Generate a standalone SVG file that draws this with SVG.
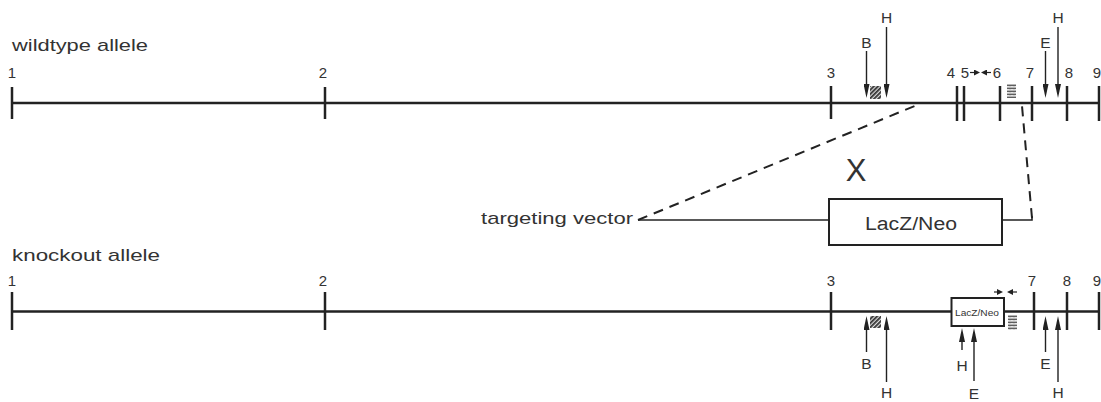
<svg xmlns="http://www.w3.org/2000/svg" width="1101" height="402" viewBox="0 0 1101 402">
  <style>
    .axis { stroke: #222; stroke-width: 2.5; fill: none; }
    .tick { stroke: #222; stroke-width: 2.5; }
    .site { stroke: #222; stroke-width: 1.4; fill: none; }
    .primer { stroke: #222; stroke-width: 1.2; fill: none; }
    .vec { stroke: #222; stroke-width: 1.6; fill: none; }
    .dash { stroke: #222; stroke-width: 2; fill: none; stroke-dasharray: 10 7; }
    .box { fill: #fff; stroke: #222; stroke-width: 2; }
    .lbl { font-family: "Liberation Sans", Arial, sans-serif; fill: #333; }
    .num { font-size: 15px; text-anchor: middle; }
    .enz { font-size: 15.5px; text-anchor: middle; }
    .title { font-size: 17px; }
  </style>
  <defs>
    <marker id="head" viewBox="0 0 14 6" refX="6" refY="3" markerWidth="14" markerHeight="6" markerUnits="userSpaceOnUse" orient="auto">
      <path d="M0,0 L14,3 L0,6 z" fill="#222"/>
    </marker>
    <marker id="phead" viewBox="0 0 6 6" refX="3" refY="3" markerWidth="6" markerHeight="6" markerUnits="userSpaceOnUse" orient="auto">
      <path d="M0,0 L6,3 L0,6 z" fill="#222"/>
    </marker>
    <pattern id="hatch" width="3" height="3" patternUnits="userSpaceOnUse" patternTransform="rotate(45)">
      <rect width="3" height="3" fill="#ddd"/>
      <rect width="1.8" height="3" fill="#333"/>
    </pattern>
    <pattern id="wave" width="4" height="3" patternUnits="userSpaceOnUse">
      <rect width="4" height="3" fill="#eee"/>
      <path d="M0,2.2 L1,0.6 L2,2.2 L3,0.6 L4,2.2" stroke="#555" stroke-width="1" fill="none"/>
    </pattern>
  </defs>

  <!-- wildtype allele -->
  <g id="wildtype">
    <text class="lbl title" x="12" y="51" textLength="136" lengthAdjust="spacingAndGlyphs">wildtype allele</text>
    <line class="axis" x1="12" y1="103" x2="1099" y2="103"/>
    <g class="ticks">
      <line class="tick" x1="12" y1="87" x2="12" y2="119"/>
      <line class="tick" x1="325" y1="87" x2="325" y2="119"/>
      <line class="tick" x1="831" y1="86" x2="831" y2="119"/>
      <line class="tick" x1="957" y1="86" x2="957" y2="121"/>
      <line class="tick" x1="964" y1="86" x2="964" y2="121"/>
      <line class="tick" x1="1000" y1="86" x2="1000" y2="121"/>
      <line class="tick" x1="1032" y1="86" x2="1032" y2="121"/>
      <line class="tick" x1="1067" y1="86" x2="1067" y2="121"/>
      <line class="tick" x1="1099" y1="86" x2="1099" y2="121"/>
    </g>
    <g class="lbl num">
      <text x="12" y="78">1</text>
      <text x="323" y="78">2</text>
      <text x="831" y="78">3</text>
      <text x="951" y="78">4</text>
      <text x="965" y="78">5</text>
      <text x="997" y="78">6</text>
      <text x="1030" y="78">7</text>
      <text x="1069" y="78">8</text>
      <text x="1097" y="78">9</text>
    </g>
    <!-- primer pair between exons 5 and 6 -->
    <line class="primer" x1="970" y1="72.5" x2="977" y2="72.5" marker-end="url(#phead)"/>
    <line class="primer" x1="991" y1="72.5" x2="984" y2="72.5" marker-end="url(#phead)"/>
    <!-- probe and repeat blocks -->
    <rect x="870" y="86" width="11" height="13" fill="url(#hatch)"/>
    <rect x="1007" y="84" width="9" height="14" fill="url(#wave)"/>
    <!-- restriction sites -->
    <line class="site" x1="866.5" y1="51" x2="866.5" y2="90" marker-end="url(#head)"/>
    <text class="lbl enz" x="866.5" y="48">B</text>
    <line class="site" x1="886.5" y1="27" x2="886.5" y2="90" marker-end="url(#head)"/>
    <text class="lbl enz" x="886.5" y="23">H</text>
    <line class="site" x1="1045.5" y1="51" x2="1045.5" y2="90" marker-end="url(#head)"/>
    <text class="lbl enz" x="1045.5" y="48">E</text>
    <line class="site" x1="1058" y1="27" x2="1058" y2="90" marker-end="url(#head)"/>
    <text class="lbl enz" x="1058" y="23">H</text>
  </g>

  <!-- crossover mark -->
  <g id="crossover">
    <text class="lbl" x="856" y="181" font-size="31" text-anchor="middle" fill="#222">X</text>
  </g>

  <!-- targeting vector -->
  <g id="vector">
    <text class="lbl title" x="481" y="224" textLength="152" lengthAdjust="spacingAndGlyphs">targeting vector</text>
    <polyline class="vec" points="638,220 829,220"/>
    <polyline class="vec" points="1002,220 1032,220 1032,216"/>
    <rect class="box" x="829" y="199" width="173" height="46"/>
    <text class="lbl" x="911" y="230" font-size="18" text-anchor="middle" textLength="92" lengthAdjust="spacingAndGlyphs">LacZ/Neo</text>
  </g>

  <!-- homology arms linking vector to the allele -->
  <g id="connectors">
    <line class="dash" x1="638" y1="220" x2="917" y2="105"/>
    <line class="dash" x1="1032" y1="218" x2="1022" y2="106"/>
  </g>

  <!-- knockout allele -->
  <g id="knockout">
    <text class="lbl title" x="12" y="261" textLength="148" lengthAdjust="spacingAndGlyphs">knockout  allele</text>
    <line class="axis" x1="12" y1="311.5" x2="1099" y2="311.5"/>
    <g class="ticks">
      <line class="tick" x1="12" y1="292" x2="12" y2="330"/>
      <line class="tick" x1="325" y1="292" x2="325" y2="330"/>
      <line class="tick" x1="831" y1="292" x2="831" y2="330"/>
      <line class="tick" x1="1034" y1="292" x2="1034" y2="330"/>
      <line class="tick" x1="1067" y1="292" x2="1067" y2="330"/>
      <line class="tick" x1="1099" y1="292" x2="1099" y2="330"/>
    </g>
    <g class="lbl num">
      <text x="12" y="286">1</text>
      <text x="323" y="286">2</text>
      <text x="831" y="286">3</text>
      <text x="1032" y="286">7</text>
      <text x="1067" y="286">8</text>
      <text x="1097" y="286">9</text>
    </g>
    <rect class="box" x="951.5" y="298" width="52.5" height="28" stroke-width="1.8"/>
    <text class="lbl" x="977" y="316" font-size="9" text-anchor="middle" textLength="44" lengthAdjust="spacingAndGlyphs">LacZ/Neo</text>
    <line class="primer" x1="994" y1="292" x2="1000" y2="292" marker-end="url(#phead)"/>
    <line class="primer" x1="1017" y1="292" x2="1010" y2="292" marker-end="url(#phead)"/>
    <rect x="870" y="316" width="11" height="12" fill="url(#hatch)"/>
    <rect x="1008" y="315" width="9" height="15" fill="url(#wave)"/>
    <line class="site" x1="866.5" y1="352" x2="866.5" y2="324" marker-end="url(#head)"/>
    <text class="lbl enz" x="866.5" y="369">B</text>
    <line class="site" x1="886.5" y1="382" x2="886.5" y2="324" marker-end="url(#head)"/>
    <text class="lbl enz" x="886.5" y="398">H</text>
    <line class="site" x1="962" y1="350" x2="962" y2="336" marker-end="url(#head)"/>
    <text class="lbl enz" x="962" y="371">H</text>
    <line class="site" x1="974" y1="381" x2="974" y2="336" marker-end="url(#head)"/>
    <text class="lbl enz" x="974" y="399">E</text>
    <line class="site" x1="1045.5" y1="352" x2="1045.5" y2="324" marker-end="url(#head)"/>
    <text class="lbl enz" x="1045.5" y="369">E</text>
    <line class="site" x1="1058" y1="382" x2="1058" y2="324" marker-end="url(#head)"/>
    <text class="lbl enz" x="1058" y="398">H</text>
  </g>
</svg>
